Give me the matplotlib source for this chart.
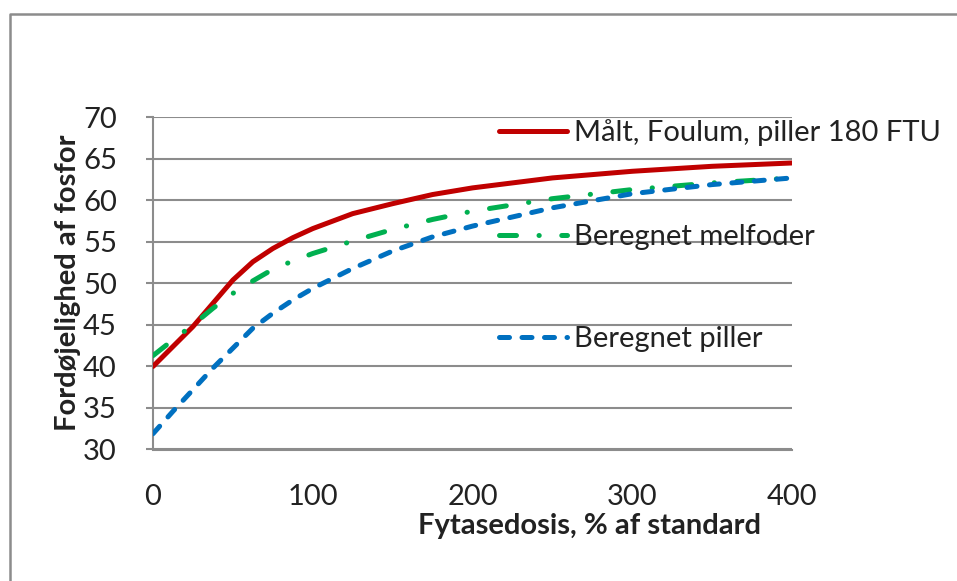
import matplotlib
matplotlib.use("Agg")
import matplotlib.pyplot as plt
from matplotlib.lines import Line2D

plt.rcParams['font.family'] = ['Lato', 'DejaVu Sans']

dose = [0, 12.5, 25, 37.5, 50, 62.5, 75, 87.5, 100, 125, 150, 175, 200, 250, 300, 350, 400]
maalt = [40.0, 42.4, 44.8, 47.6, 50.4, 52.6, 54.2, 55.5, 56.6, 58.4, 59.6, 60.7, 61.5, 62.7, 63.5, 64.1, 64.5]
melfoder = [41.3, 43.2, 45.0, 47.0, 48.8, 50.3, 51.7, 52.7, 53.6, 55.1, 56.5, 57.7, 58.7, 60.2, 61.3, 62.1, 62.7]
piller = [31.9, 34.6, 37.2, 39.8, 42.2, 44.6, 46.4, 48.0, 49.4, 51.8, 53.9, 55.6, 56.9, 59.1, 60.8, 61.9, 62.7]

labels = ["Målt, Foulum, piller 180 FTU", "Beregnet melfoder", "Beregnet piller"]
colors = ["#C00000", "#00B050", "#0070C0"]
yticks = [30, 35, 40, 45, 50, 55, 60, 65, 70]
xticks = [0, 100, 200, 300, 400]

W, H = 957, 581
fig = plt.figure(figsize=(W / 100, H / 100), dpi=100)
ax = fig.add_axes([153 / W, 1 - 449.5 / H, (792 - 153) / W, (449.5 - 117.3) / H])

lw = 3.6
green_dash = (3.4, 4.5, 0.05, 4.5)
blue_dash = (2.0, 2.5)
ax.plot(dose, maalt, color=colors[0], lw=lw, solid_capstyle='round', solid_joinstyle='round', zorder=3)
ax.plot(dose, melfoder, color=colors[1], lw=lw, dashes=green_dash,
        dash_capstyle='round', zorder=3)
ax.plot(dose, piller, color=colors[2], lw=lw, dashes=blue_dash,
        dash_capstyle='round', zorder=3)

ax.set_xlim(0, 400)
ax.set_ylim(30, 70)
ax.set_xticks(xticks)
ax.set_yticks(yticks)
gridc = "#8c8c8c"
ax.yaxis.grid(True, color=gridc, lw=1.5, zorder=1)
ax.set_axisbelow(True)
for s in ['top', 'right']:
    ax.spines[s].set_visible(False)
for s in ['left', 'bottom']:
    ax.spines[s].set_color(gridc)
    ax.spines[s].set_linewidth(1.5)
txtc = '#222222'
fs = 21
ax.tick_params(axis='y', length=5, width=1.5, color=gridc, pad=21, labelsize=fs, labelcolor=txtc)
ax.tick_params(axis='x', length=0, pad=25, labelsize=fs, labelcolor=txtc)

fig.text(68 / W, 1 - 283 / H, "Fordøjelighed af fosfor", rotation=90, ha='center', va='center',
         fontsize=fs, fontweight='bold', color=txtc)
fig.text(590 / W, 1 - 526 / H, "Fytasedosis, % af standard", ha='center', va='center',
         fontsize=fs, fontweight='bold', color=txtc)

# legend (manual)
leg_y = [131, 235, 337]
styles = [dict(), dict(dashes=green_dash, dash_capstyle='round'),
          dict(dashes=blue_dash, dash_capstyle='round')]
for lab, c, yy, st in zip(labels, colors, leg_y, styles):
    fig.add_artist(Line2D([499 / W, 567 / W], [1 - yy / H, 1 - yy / H], color=c, lw=lw,
                          solid_capstyle='round', transform=fig.transFigure, **st))
    fig.text(574 / W, 1 - (yy + 2) / H, lab, ha='left', va='center', fontsize=fs, color=txtc)

# outer border (left and top visible)
fig.add_artist(Line2D([9.5 / W, 9.5 / W, 1.0], [0, 1 - 14 / H, 1 - 14 / H], color="#8c8c8c",
                      lw=1.8, transform=fig.transFigure))

fig.savefig("out.png", dpi=100)
